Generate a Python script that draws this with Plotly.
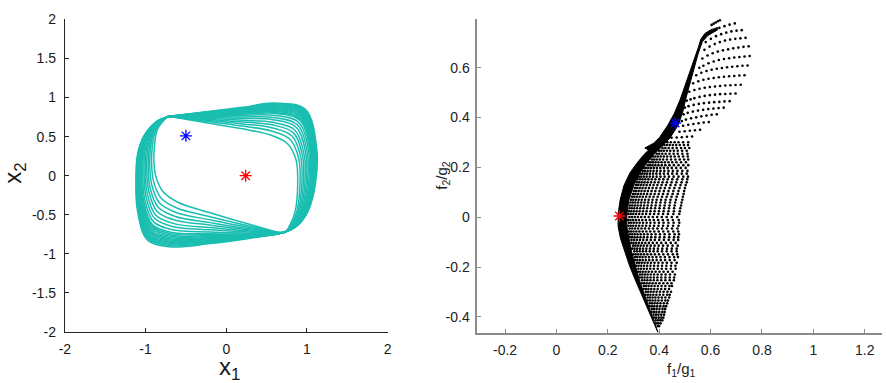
import plotly.graph_objects as go

# ---------------- left panel: closed trajectories in the (x1, x2) plane ----------------
# each loop = an upper/right arc (top-left pinch -> bottom-right pinch)
# followed by a lower/left arc (bottom-right pinch -> top-left pinch)
UPPER_X = [
    [-0.730, -0.30, 0.20, 0.600, 0.980, 1.120, 1.105, 1.015, 0.880, 0.72],
    [-0.729, -0.30, 0.20, 0.599, 0.975, 1.114, 1.100, 1.011, 0.878, 0.72],
    [-0.728, -0.30, 0.20, 0.598, 0.969, 1.107, 1.094, 1.007, 0.875, 0.72],
    [-0.728, -0.30, 0.20, 0.596, 0.964, 1.101, 1.089, 1.003, 0.873, 0.72],
    [-0.727, -0.30, 0.20, 0.595, 0.958, 1.095, 1.083, 0.999, 0.871, 0.72],
    [-0.726, -0.30, 0.20, 0.594, 0.953, 1.088, 1.078, 0.995, 0.868, 0.72],
    [-0.725, -0.30, 0.20, 0.593, 0.947, 1.082, 1.072, 0.991, 0.866, 0.72],
    [-0.725, -0.30, 0.20, 0.591, 0.942, 1.075, 1.067, 0.987, 0.863, 0.72],
    [-0.724, -0.30, 0.20, 0.590, 0.936, 1.069, 1.061, 0.983, 0.861, 0.72],
    [-0.723, -0.30, 0.20, 0.589, 0.929, 1.061, 1.054, 0.978, 0.858, 0.72],
    [-0.722, -0.30, 0.20, 0.587, 0.923, 1.054, 1.048, 0.973, 0.855, 0.72],
    [-0.721, -0.30, 0.20, 0.586, 0.916, 1.046, 1.041, 0.969, 0.852, 0.72],
    [-0.720, -0.30, 0.20, 0.584, 0.910, 1.038, 1.035, 0.964, 0.850, 0.72],
    [-0.719, -0.30, 0.20, 0.581, 0.896, 1.023, 1.021, 0.954, 0.844, 0.72],
    [-0.717, -0.30, 0.20, 0.578, 0.881, 1.005, 1.006, 0.943, 0.837, 0.72],
    [-0.714, -0.30, 0.20, 0.574, 0.866, 0.987, 0.991, 0.932, 0.831, 0.72],
    [-0.712, -0.30, 0.20, 0.570, 0.848, 0.967, 0.973, 0.919, 0.823, 0.72],
    [-0.710, -0.30, 0.20, 0.566, 0.830, 0.947, 0.955, 0.906, 0.815, 0.72],
    [-0.707, -0.30, 0.20, 0.562, 0.811, 0.924, 0.936, 0.892, 0.807, 0.72],
    [-0.704, -0.30, 0.20, 0.557, 0.789, 0.898, 0.914, 0.876, 0.797, 0.72],
    [-0.700, -0.30, 0.20, 0.550, 0.760, 0.865, 0.885, 0.855, 0.785, 0.72],
]
UPPER_Y = [
    [0.757, 0.812, 0.875, 0.930, 0.850, 0.350, -0.10, -0.45, -0.64, -0.724],
    [0.757, 0.809, 0.868, 0.920, 0.839, 0.346, -0.10, -0.45, -0.64, -0.724],
    [0.757, 0.806, 0.861, 0.910, 0.828, 0.343, -0.10, -0.45, -0.64, -0.724],
    [0.757, 0.803, 0.854, 0.899, 0.817, 0.339, -0.10, -0.45, -0.64, -0.724],
    [0.757, 0.800, 0.848, 0.889, 0.806, 0.335, -0.10, -0.45, -0.64, -0.724],
    [0.757, 0.796, 0.841, 0.879, 0.795, 0.331, -0.10, -0.45, -0.64, -0.724],
    [0.757, 0.793, 0.834, 0.869, 0.784, 0.328, -0.10, -0.45, -0.64, -0.724],
    [0.757, 0.790, 0.827, 0.858, 0.773, 0.324, -0.10, -0.45, -0.64, -0.724],
    [0.757, 0.787, 0.820, 0.848, 0.762, 0.320, -0.10, -0.45, -0.64, -0.724],
    [0.757, 0.783, 0.812, 0.836, 0.749, 0.316, -0.10, -0.45, -0.64, -0.724],
    [0.757, 0.780, 0.804, 0.823, 0.736, 0.311, -0.10, -0.45, -0.64, -0.724],
    [0.757, 0.776, 0.795, 0.811, 0.722, 0.307, -0.10, -0.45, -0.64, -0.724],
    [0.757, 0.772, 0.787, 0.799, 0.709, 0.302, -0.10, -0.45, -0.64, -0.724],
    [0.757, 0.765, 0.771, 0.774, 0.683, 0.293, -0.10, -0.45, -0.64, -0.724],
    [0.757, 0.756, 0.751, 0.746, 0.652, 0.283, -0.10, -0.45, -0.64, -0.724],
    [0.757, 0.747, 0.732, 0.717, 0.621, 0.272, -0.10, -0.45, -0.64, -0.724],
    [0.757, 0.737, 0.710, 0.684, 0.586, 0.260, -0.10, -0.45, -0.64, -0.724],
    [0.757, 0.727, 0.688, 0.651, 0.551, 0.248, -0.10, -0.45, -0.64, -0.724],
    [0.757, 0.716, 0.663, 0.614, 0.511, 0.235, -0.10, -0.45, -0.64, -0.724],
    [0.757, 0.703, 0.636, 0.573, 0.467, 0.220, -0.10, -0.45, -0.64, -0.724],
    [0.757, 0.687, 0.600, 0.520, 0.410, 0.200, -0.10, -0.45, -0.64, -0.724],
]
LOWER_X = [
    [0.30, -0.20, -0.700, -0.980, -1.100, -1.120, -1.100, -1.020, -0.860, -0.73],
    [0.30, -0.20, -0.698, -0.975, -1.094, -1.114, -1.095, -1.016, -0.858, -0.73],
    [0.30, -0.20, -0.695, -0.970, -1.089, -1.109, -1.090, -1.012, -0.857, -0.73],
    [0.30, -0.20, -0.693, -0.965, -1.083, -1.103, -1.084, -1.008, -0.855, -0.73],
    [0.30, -0.20, -0.690, -0.960, -1.077, -1.098, -1.079, -1.004, -0.853, -0.73],
    [0.30, -0.20, -0.688, -0.955, -1.071, -1.092, -1.074, -0.999, -0.851, -0.73],
    [0.30, -0.20, -0.685, -0.950, -1.066, -1.086, -1.069, -0.995, -0.850, -0.73],
    [0.30, -0.20, -0.683, -0.945, -1.060, -1.081, -1.063, -0.991, -0.848, -0.73],
    [0.30, -0.20, -0.680, -0.940, -1.054, -1.075, -1.058, -0.987, -0.846, -0.73],
    [0.30, -0.20, -0.677, -0.934, -1.047, -1.068, -1.052, -0.982, -0.844, -0.73],
    [0.30, -0.20, -0.674, -0.928, -1.040, -1.062, -1.045, -0.977, -0.842, -0.73],
    [0.30, -0.20, -0.671, -0.922, -1.033, -1.055, -1.039, -0.972, -0.840, -0.73],
    [0.30, -0.20, -0.668, -0.916, -1.026, -1.048, -1.033, -0.967, -0.838, -0.73],
    [0.30, -0.20, -0.662, -0.904, -1.013, -1.035, -1.020, -0.957, -0.833, -0.73],
    [0.30, -0.20, -0.655, -0.890, -0.997, -1.019, -1.006, -0.946, -0.829, -0.73],
    [0.30, -0.20, -0.648, -0.876, -0.980, -1.003, -0.991, -0.934, -0.824, -0.73],
    [0.30, -0.20, -0.640, -0.860, -0.962, -0.985, -0.974, -0.921, -0.818, -0.73],
    [0.30, -0.20, -0.632, -0.844, -0.944, -0.967, -0.957, -0.908, -0.812, -0.73],
    [0.30, -0.20, -0.623, -0.826, -0.923, -0.947, -0.938, -0.893, -0.806, -0.73],
    [0.30, -0.20, -0.613, -0.806, -0.900, -0.924, -0.917, -0.876, -0.799, -0.73],
    [0.30, -0.20, -0.600, -0.780, -0.870, -0.895, -0.890, -0.855, -0.790, -0.73],
]
LOWER_Y = [
    [-0.800, -0.870, -0.910, -0.820, -0.450, -0.060, 0.270, 0.510, 0.695, 0.752],
    [-0.796, -0.860, -0.896, -0.805, -0.439, -0.055, 0.273, 0.512, 0.695, 0.752],
    [-0.791, -0.850, -0.882, -0.790, -0.429, -0.050, 0.276, 0.514, 0.695, 0.752],
    [-0.787, -0.840, -0.867, -0.774, -0.418, -0.044, 0.278, 0.516, 0.695, 0.752],
    [-0.783, -0.831, -0.853, -0.759, -0.407, -0.039, 0.281, 0.518, 0.695, 0.752],
    [-0.778, -0.821, -0.839, -0.744, -0.396, -0.034, 0.284, 0.520, 0.695, 0.752],
    [-0.774, -0.811, -0.825, -0.729, -0.386, -0.029, 0.287, 0.522, 0.694, 0.752],
    [-0.769, -0.801, -0.810, -0.713, -0.375, -0.023, 0.289, 0.524, 0.694, 0.752],
    [-0.765, -0.791, -0.796, -0.698, -0.364, -0.018, 0.292, 0.526, 0.694, 0.752],
    [-0.760, -0.779, -0.779, -0.680, -0.351, -0.012, 0.295, 0.528, 0.694, 0.752],
    [-0.755, -0.767, -0.762, -0.661, -0.338, -0.005, 0.299, 0.531, 0.694, 0.752],
    [-0.749, -0.755, -0.745, -0.643, -0.325, 0.001, 0.302, 0.533, 0.693, 0.752],
    [-0.744, -0.744, -0.728, -0.625, -0.312, 0.007, 0.305, 0.536, 0.693, 0.752],
    [-0.734, -0.720, -0.693, -0.588, -0.287, 0.020, 0.312, 0.540, 0.693, 0.752],
    [-0.721, -0.692, -0.654, -0.546, -0.257, 0.035, 0.320, 0.546, 0.693, 0.752],
    [-0.709, -0.665, -0.614, -0.503, -0.226, 0.049, 0.327, 0.552, 0.692, 0.752],
    [-0.695, -0.633, -0.568, -0.454, -0.192, 0.066, 0.336, 0.558, 0.692, 0.752],
    [-0.681, -0.601, -0.522, -0.405, -0.158, 0.083, 0.345, 0.564, 0.692, 0.752],
    [-0.665, -0.566, -0.471, -0.350, -0.119, 0.102, 0.355, 0.572, 0.691, 0.752],
    [-0.648, -0.526, -0.414, -0.289, -0.076, 0.123, 0.366, 0.580, 0.691, 0.752],
    [-0.625, -0.475, -0.340, -0.210, -0.020, 0.150, 0.380, 0.590, 0.690, 0.752],
]
START_PT = (-0.50, 0.51)     # blue asterisk
EQUIL_PT = (0.24, 0.00)      # red asterisk

X_TICKS_L = [-2, -1, 0, 1, 2]
X_TEXT_L = ["-2", "-1", "0", "1", "2"]
Y_TICKS_L = [-2, -1.5, -1, -0.5, 0, 0.5, 1, 1.5, 2]
Y_TEXT_L = ["-2", "-1.5", "-1", "-0.5", "0", "0.5", "1", "1.5", "2"]

# ---------------- right panel: ratio map (f1/g1, f2/g2) ----------------
# solid edge where the sample points pile up
BAND_X = [0.628, 0.600, 0.578, 0.562, 0.551, 0.528, 0.505, 0.482, 0.459, 0.432,
          0.401, 0.378, 0.344, 0.359, 0.340, 0.313, 0.286, 0.263, 0.248, 0.240,
          0.240, 0.249, 0.267, 0.286, 0.309, 0.332, 0.355, 0.378, 0.395,
          0.382, 0.363, 0.344, 0.324, 0.309, 0.293, 0.282, 0.274, 0.274, 0.282,
          0.301, 0.324, 0.351, 0.378, 0.409, 0.443, 0.474, 0.492, 0.503, 0.518,
          0.535, 0.551, 0.568, 0.590, 0.628]
BAND_Y = [0.762, 0.752, 0.738, 0.715, 0.678, 0.609, 0.540, 0.474, 0.417, 0.367,
          0.320, 0.297, 0.278, 0.270, 0.251, 0.217, 0.178, 0.128, 0.070, 0.013,
          -0.037, -0.084, -0.141, -0.199, -0.257, -0.314, -0.372, -0.422, -0.462,
          -0.422, -0.372, -0.314, -0.257, -0.199, -0.141, -0.084, -0.037, 0.013, 0.070,
          0.128, 0.178, 0.217, 0.251, 0.282, 0.320, 0.370, 0.424, 0.474, 0.532,
          0.594, 0.655, 0.705, 0.730, 0.753]

# upper wing: curved rows of samples
WING_X = [
    [0.594, 0.614, 0.634, 0.654, 0.674, 0.694],
    [0.581, 0.601, 0.621, 0.641, 0.661, 0.681, 0.701, 0.721],
    [0.576, 0.596, 0.616, 0.636, 0.656, 0.676, 0.696, 0.716, 0.736],
    [0.568, 0.588, 0.608, 0.628, 0.648, 0.668, 0.688, 0.708, 0.728, 0.748],
    [0.556, 0.572, 0.592, 0.612, 0.632, 0.652, 0.672, 0.692, 0.712, 0.732, 0.752],
    [0.544, 0.564, 0.584, 0.604, 0.624, 0.644, 0.664, 0.684, 0.704, 0.724, 0.744],
    [0.532, 0.552, 0.572, 0.592, 0.612, 0.632, 0.652, 0.672, 0.692, 0.712, 0.732],
    [0.517, 0.537, 0.557, 0.577, 0.597, 0.617, 0.637, 0.657, 0.677, 0.697, 0.717],
    [0.507, 0.522, 0.537, 0.557, 0.577, 0.597, 0.617, 0.637, 0.657, 0.677, 0.697],
    [0.500, 0.514, 0.534, 0.554, 0.574, 0.594, 0.614, 0.634, 0.654, 0.674],
    [0.495, 0.511, 0.531, 0.551, 0.571, 0.591, 0.611, 0.631, 0.651],
    [0.488, 0.504, 0.524, 0.544, 0.564, 0.584, 0.604, 0.624],
    [0.493, 0.513, 0.533, 0.553, 0.573, 0.593],
    [0.479, 0.499, 0.519, 0.539, 0.559],
    [0.448, 0.468, 0.488, 0.508, 0.528],
]
WING_Y = [
    [0.737, 0.750, 0.760, 0.767, 0.773, 0.778],
    [0.703, 0.716, 0.727, 0.735, 0.741, 0.746, 0.749, 0.751],
    [0.672, 0.685, 0.695, 0.703, 0.709, 0.713, 0.716, 0.718, 0.720],
    [0.637, 0.649, 0.658, 0.665, 0.670, 0.674, 0.678, 0.681, 0.684, 0.686],
    [0.600, 0.608, 0.618, 0.625, 0.631, 0.635, 0.638, 0.641, 0.643, 0.645, 0.647],
    [0.570, 0.580, 0.587, 0.592, 0.596, 0.599, 0.602, 0.604, 0.606, 0.608, 0.609],
    [0.538, 0.546, 0.552, 0.556, 0.559, 0.562, 0.564, 0.566, 0.567, 0.569, 0.570],
    [0.504, 0.511, 0.516, 0.520, 0.523, 0.525, 0.527, 0.529, 0.530, 0.531, 0.532],
    [0.468, 0.473, 0.478, 0.483, 0.487, 0.490, 0.492, 0.494, 0.495, 0.496, 0.497],
    [0.440, 0.446, 0.451, 0.455, 0.458, 0.460, 0.462, 0.463, 0.465, 0.466],
    [0.413, 0.419, 0.424, 0.428, 0.431, 0.434, 0.436, 0.438, 0.440],
    [0.386, 0.392, 0.397, 0.401, 0.405, 0.408, 0.411, 0.413],
    [0.367, 0.371, 0.374, 0.377, 0.380, 0.382],
    [0.343, 0.345, 0.347, 0.349, 0.351],
    [0.319, 0.320, 0.321, 0.323, 0.324],
]
# short streak at the very top
DASH_X = [0.604, 0.612, 0.620, 0.628, 0.636]
DASH_Y = [0.772, 0.777, 0.782, 0.787, 0.791]

# lower fan: rows of samples, one ordinate per row
FAN_Y = [0.301, 0.290, 0.278, 0.267, 0.255, 0.244, 0.232, 0.221, 0.209, 0.198,
         0.186, 0.175, 0.163, 0.152, 0.140, 0.129, 0.117, 0.105, 0.093, 0.082,
         0.070, 0.059, 0.047, 0.036, 0.024, 0.013, 0.001, -0.011, -0.022, -0.034,
         -0.045, -0.057, -0.068, -0.080, -0.091, -0.103, -0.114, -0.126, -0.137, -0.149,
         -0.160, -0.172, -0.183, -0.195, -0.207, -0.219, -0.230, -0.242, -0.253, -0.265,
         -0.276, -0.288, -0.299, -0.311, -0.322, -0.334, -0.345, -0.357, -0.368, -0.380,
         -0.391, -0.403, -0.414, -0.426, -0.437]
FAN_X = [
    [0.432, 0.445, 0.460, 0.475, 0.493, 0.513],
    [0.420, 0.430, 0.441, 0.453, 0.466, 0.480, 0.496, 0.512],
    [0.413, 0.424, 0.437, 0.452, 0.468, 0.485, 0.500, 0.517],
    [0.399, 0.408, 0.418, 0.430, 0.443, 0.457, 0.472, 0.489, 0.507],
    [0.390, 0.400, 0.412, 0.425, 0.440, 0.456, 0.472, 0.490, 0.510],
    [0.376, 0.385, 0.395, 0.406, 0.418, 0.431, 0.445, 0.460, 0.476, 0.493, 0.511],
    [0.371, 0.380, 0.390, 0.402, 0.415, 0.430, 0.446, 0.463, 0.480, 0.497, 0.513],
    [0.359, 0.367, 0.376, 0.386, 0.397, 0.409, 0.422, 0.436, 0.451, 0.467, 0.485, 0.504],
    [0.355, 0.364, 0.374, 0.385, 0.397, 0.410, 0.424, 0.440, 0.457, 0.475, 0.494, 0.513],
    [0.341, 0.349, 0.358, 0.368, 0.379, 0.391, 0.404, 0.418, 0.433, 0.449, 0.466, 0.484, 0.503],
    [0.336, 0.345, 0.355, 0.366, 0.378, 0.391, 0.405, 0.420, 0.436, 0.453, 0.471, 0.490, 0.510],
    [0.326, 0.334, 0.343, 0.353, 0.364, 0.376, 0.389, 0.403, 0.418, 0.434, 0.451, 0.469, 0.488, 0.507],
    [0.321, 0.330, 0.340, 0.351, 0.363, 0.376, 0.390, 0.405, 0.421, 0.438, 0.456, 0.475, 0.494, 0.512],
    [0.316, 0.325, 0.335, 0.346, 0.358, 0.371, 0.385, 0.400, 0.416, 0.433, 0.451, 0.470, 0.490, 0.509],
    [0.313, 0.322, 0.332, 0.343, 0.355, 0.368, 0.382, 0.397, 0.413, 0.430, 0.448, 0.467, 0.487, 0.507],
    [0.309, 0.318, 0.328, 0.339, 0.351, 0.364, 0.378, 0.393, 0.409, 0.426, 0.444, 0.463, 0.483, 0.503],
    [0.305, 0.314, 0.324, 0.335, 0.347, 0.360, 0.374, 0.389, 0.405, 0.422, 0.440, 0.459, 0.479, 0.500],
    [0.301, 0.310, 0.320, 0.331, 0.343, 0.356, 0.370, 0.385, 0.401, 0.418, 0.436, 0.455, 0.475, 0.497],
    [0.298, 0.307, 0.317, 0.328, 0.340, 0.353, 0.367, 0.382, 0.398, 0.415, 0.433, 0.452, 0.472, 0.495],
    [0.294, 0.303, 0.313, 0.324, 0.336, 0.349, 0.363, 0.378, 0.394, 0.411, 0.429, 0.448, 0.468, 0.492],
    [0.290, 0.299, 0.309, 0.320, 0.332, 0.345, 0.359, 0.374, 0.390, 0.407, 0.425, 0.444, 0.465, 0.490],
    [0.288, 0.297, 0.307, 0.318, 0.330, 0.343, 0.357, 0.372, 0.388, 0.405, 0.423, 0.442, 0.462, 0.487],
    [0.286, 0.295, 0.305, 0.316, 0.328, 0.341, 0.355, 0.370, 0.386, 0.403, 0.421, 0.440, 0.460, 0.485],
    [0.284, 0.293, 0.303, 0.314, 0.326, 0.339, 0.353, 0.368, 0.384, 0.401, 0.419, 0.438, 0.458, 0.482],
    [0.282, 0.291, 0.301, 0.312, 0.324, 0.337, 0.351, 0.366, 0.382, 0.399, 0.417, 0.436, 0.457, 0.480],
    [0.280, 0.289, 0.299, 0.310, 0.322, 0.335, 0.349, 0.364, 0.380, 0.397, 0.415, 0.434, 0.455, 0.478],
    [0.284, 0.294, 0.305, 0.317, 0.330, 0.344, 0.359, 0.375, 0.392, 0.410, 0.429, 0.449, 0.470],
    [0.279, 0.288, 0.298, 0.309, 0.321, 0.334, 0.348, 0.363, 0.379, 0.396, 0.414, 0.433, 0.453, 0.476],
    [0.282, 0.291, 0.301, 0.312, 0.324, 0.337, 0.351, 0.366, 0.382, 0.399, 0.417, 0.436, 0.456, 0.478],
    [0.280, 0.289, 0.299, 0.310, 0.322, 0.335, 0.349, 0.364, 0.380, 0.397, 0.415, 0.434, 0.454, 0.475],
    [0.285, 0.295, 0.306, 0.318, 0.331, 0.345, 0.360, 0.376, 0.393, 0.411, 0.430, 0.450, 0.471],
    [0.281, 0.290, 0.300, 0.311, 0.323, 0.336, 0.350, 0.365, 0.381, 0.398, 0.416, 0.435, 0.455, 0.474],
    [0.286, 0.295, 0.305, 0.316, 0.328, 0.341, 0.355, 0.370, 0.386, 0.403, 0.421, 0.440, 0.460, 0.477],
    [0.285, 0.294, 0.304, 0.315, 0.327, 0.340, 0.354, 0.369, 0.385, 0.402, 0.420, 0.439, 0.458, 0.474],
    [0.292, 0.302, 0.313, 0.325, 0.338, 0.352, 0.367, 0.383, 0.400, 0.418, 0.437, 0.456, 0.474],
    [0.291, 0.300, 0.310, 0.321, 0.333, 0.346, 0.360, 0.375, 0.391, 0.408, 0.426, 0.445, 0.464],
    [0.298, 0.307, 0.317, 0.328, 0.340, 0.353, 0.367, 0.382, 0.398, 0.415, 0.433, 0.452, 0.472],
    [0.295, 0.304, 0.314, 0.325, 0.337, 0.350, 0.364, 0.379, 0.395, 0.412, 0.430, 0.449, 0.468],
    [0.303, 0.313, 0.324, 0.336, 0.349, 0.363, 0.378, 0.394, 0.411, 0.429, 0.448, 0.468],
    [0.299, 0.308, 0.318, 0.329, 0.341, 0.354, 0.368, 0.383, 0.399, 0.416, 0.434, 0.453, 0.470],
    [0.305, 0.314, 0.324, 0.335, 0.347, 0.360, 0.374, 0.389, 0.405, 0.422, 0.440, 0.458, 0.473],
    [0.306, 0.315, 0.325, 0.336, 0.348, 0.361, 0.375, 0.390, 0.406, 0.423, 0.441, 0.460],
    [0.313, 0.322, 0.332, 0.343, 0.355, 0.368, 0.382, 0.397, 0.413, 0.430, 0.448, 0.468],
    [0.311, 0.320, 0.330, 0.341, 0.353, 0.366, 0.380, 0.395, 0.411, 0.428, 0.446, 0.463],
    [0.319, 0.329, 0.340, 0.352, 0.365, 0.379, 0.394, 0.410, 0.427, 0.445, 0.464],
    [0.317, 0.326, 0.336, 0.347, 0.359, 0.372, 0.386, 0.401, 0.417, 0.434, 0.452],
    [0.325, 0.334, 0.344, 0.355, 0.367, 0.380, 0.394, 0.409, 0.425, 0.442, 0.461],
    [0.324, 0.333, 0.343, 0.354, 0.366, 0.379, 0.393, 0.408, 0.424, 0.441, 0.458],
    [0.333, 0.343, 0.354, 0.366, 0.379, 0.393, 0.408, 0.424, 0.441, 0.457],
    [0.332, 0.341, 0.351, 0.362, 0.374, 0.387, 0.401, 0.416, 0.432, 0.448],
    [0.340, 0.349, 0.359, 0.370, 0.382, 0.395, 0.409, 0.424, 0.440, 0.450],
    [0.339, 0.348, 0.358, 0.369, 0.381, 0.394, 0.408, 0.423, 0.438],
    [0.348, 0.357, 0.367, 0.378, 0.390, 0.403, 0.417, 0.432, 0.446],
    [0.347, 0.356, 0.366, 0.377, 0.389, 0.402, 0.416, 0.431, 0.441],
    [0.355, 0.364, 0.374, 0.385, 0.397, 0.410, 0.424, 0.439],
    [0.355, 0.364, 0.374, 0.385, 0.397, 0.410, 0.424, 0.434],
    [0.363, 0.372, 0.382, 0.393, 0.405, 0.418, 0.431],
    [0.362, 0.371, 0.381, 0.392, 0.404, 0.417, 0.427],
    [0.371, 0.380, 0.390, 0.401, 0.413, 0.423],
    [0.370, 0.379, 0.389, 0.400, 0.412, 0.421],
    [0.378, 0.387, 0.397, 0.408, 0.419],
    [0.379, 0.388, 0.398, 0.408, 0.416],
    [0.386, 0.395, 0.404, 0.412],
    [0.388, 0.396, 0.405],
    [0.394, 0.400],
]
RATIO_EQUIL = (0.245, 0.005)   # red asterisk
RATIO_START = (0.462, 0.378)   # blue asterisk

X_TICKS_R = [-0.2, 0, 0.2, 0.4, 0.6, 0.8, 1, 1.2]
X_TEXT_R = ["-0.2", "0", "0.2", "0.4", "0.6", "0.8", "1", "1.2"]
Y_TICKS_R = [-0.4, -0.2, 0, 0.2, 0.4, 0.6]
Y_TEXT_R = ["-0.4", "-0.2", "0", "0.2", "0.4", "0.6"]

TEAL = "rgb(26,190,177)"
FONT = "Liberation Sans, Arial, Helvetica, sans-serif"

fig = go.Figure()

# trajectories
for ux, uy, lx, ly in zip(UPPER_X, UPPER_Y, LOWER_X, LOWER_Y):
    fig.add_trace(go.Scatter(
        x=ux + lx, y=uy + ly, mode="lines",
        line=dict(color=TEAL, width=1.5, shape="spline", smoothing=1.0),
        xaxis="x", yaxis="y", hoverinfo="skip", showlegend=False))


def star(pt, col, xa, ya):
    return go.Scatter(
        x=[pt[0]], y=[pt[1]], mode="markers",
        marker=dict(symbol="asterisk-open", size=10, color=col,
                    line=dict(color=col, width=1.3)),
        xaxis=xa, yaxis=ya, showlegend=False, hoverinfo="skip")


fig.add_trace(star(START_PT, "blue", "x", "y"))
fig.add_trace(star(EQUIL_PT, "red", "x", "y"))

# ratio map
fig.add_trace(go.Scatter(
    x=BAND_X, y=BAND_Y, mode="lines", fill="toself", fillcolor="black",
    line=dict(color="black", width=1), xaxis="x2", yaxis="y2",
    hoverinfo="skip", showlegend=False))

dot_x, dot_y = [], []
for rx, ry in zip(WING_X, WING_Y):
    dot_x += rx
    dot_y += ry
for ry, rx in zip(FAN_Y, FAN_X):
    dot_x += rx
    dot_y += [ry] * len(rx)
dot_x += DASH_X
dot_y += DASH_Y

fig.add_trace(go.Scatter(
    x=dot_x, y=dot_y, mode="markers",
    marker=dict(color="black", size=2.6, line=dict(width=0)),
    xaxis="x2", yaxis="y2", hoverinfo="skip", showlegend=False))

fig.add_trace(star(RATIO_EQUIL, "red", "x2", "y2"))
fig.add_trace(star(RATIO_START, "blue", "x2", "y2"))

axis_common = dict(showgrid=False, zeroline=False, showline=True, ticks="inside",
                   ticklen=4, mirror=False)
left_line = dict(linecolor="#262626", tickcolor="#262626", linewidth=1,
                 tickfont=dict(family=FONT, size=14, color="#1a1a1a"))
right_line = dict(linecolor="#8c8c8c", tickcolor="#8c8c8c", linewidth=1.5,
                  tickfont=dict(family=FONT, size=14, color="#222222"))

fig.update_layout(
    width=886, height=383,
    margin=dict(l=0, r=0, t=0, b=0),
    paper_bgcolor="white", plot_bgcolor="white",
    showlegend=False,
    xaxis=dict(domain=[0.0672, 0.4357], range=[-2, 2], anchor="y",
               tickvals=X_TICKS_L, ticktext=X_TEXT_L, ticklabelstandoff=4,
               **axis_common, **left_line),
    yaxis=dict(domain=[0.1175, 0.9687], range=[-2, 2], anchor="x",
               tickvals=Y_TICKS_L, ticktext=Y_TEXT_L, ticklabelstandoff=5,
               **axis_common, **left_line),
    xaxis2=dict(domain=[0.538, 1.0], range=[-0.308, 1.267], anchor="y2",
                tickvals=X_TICKS_R, ticktext=X_TEXT_R, ticklabelstandoff=4,
                **axis_common, **right_line),
    yaxis2=dict(domain=[0.1149, 0.9695], range=[-0.464, 0.795], anchor="x2",
                tickvals=Y_TICKS_R, ticktext=Y_TEXT_R, ticklabelstandoff=3,
                **axis_common, **right_line),
    annotations=[
        dict(text="x<sub>1</sub>", x=226 / 886, y=(383 - 376) / 383,
             xref="paper", yref="paper", showarrow=False,
             xanchor="center", yanchor="middle",
             font=dict(family=FONT, size=24, color="#1a1a1a")),
        dict(text="x<sub>2</sub>", x=9 / 886, y=(383 - 172) / 383,
             xref="paper", yref="paper", showarrow=False, textangle=-90,
             xanchor="center", yanchor="middle",
             font=dict(family=FONT, size=24, color="#1a1a1a")),
        dict(text="f<sub>1</sub>/g<sub>1</sub>", x=683 / 886, y=(383 - 377) / 383,
             xref="paper", yref="paper", showarrow=False,
             xanchor="center", yanchor="middle",
             font=dict(family=FONT, size=15, color="#222222")),
        dict(text="f<sub>2</sub>/g<sub>2</sub>", x=442 / 886, y=(383 - 175) / 383,
             xref="paper", yref="paper", showarrow=False, textangle=-90,
             xanchor="center", yanchor="middle",
             font=dict(family=FONT, size=15, color="#222222")),
    ],
)

fig.write_html("out.html")
